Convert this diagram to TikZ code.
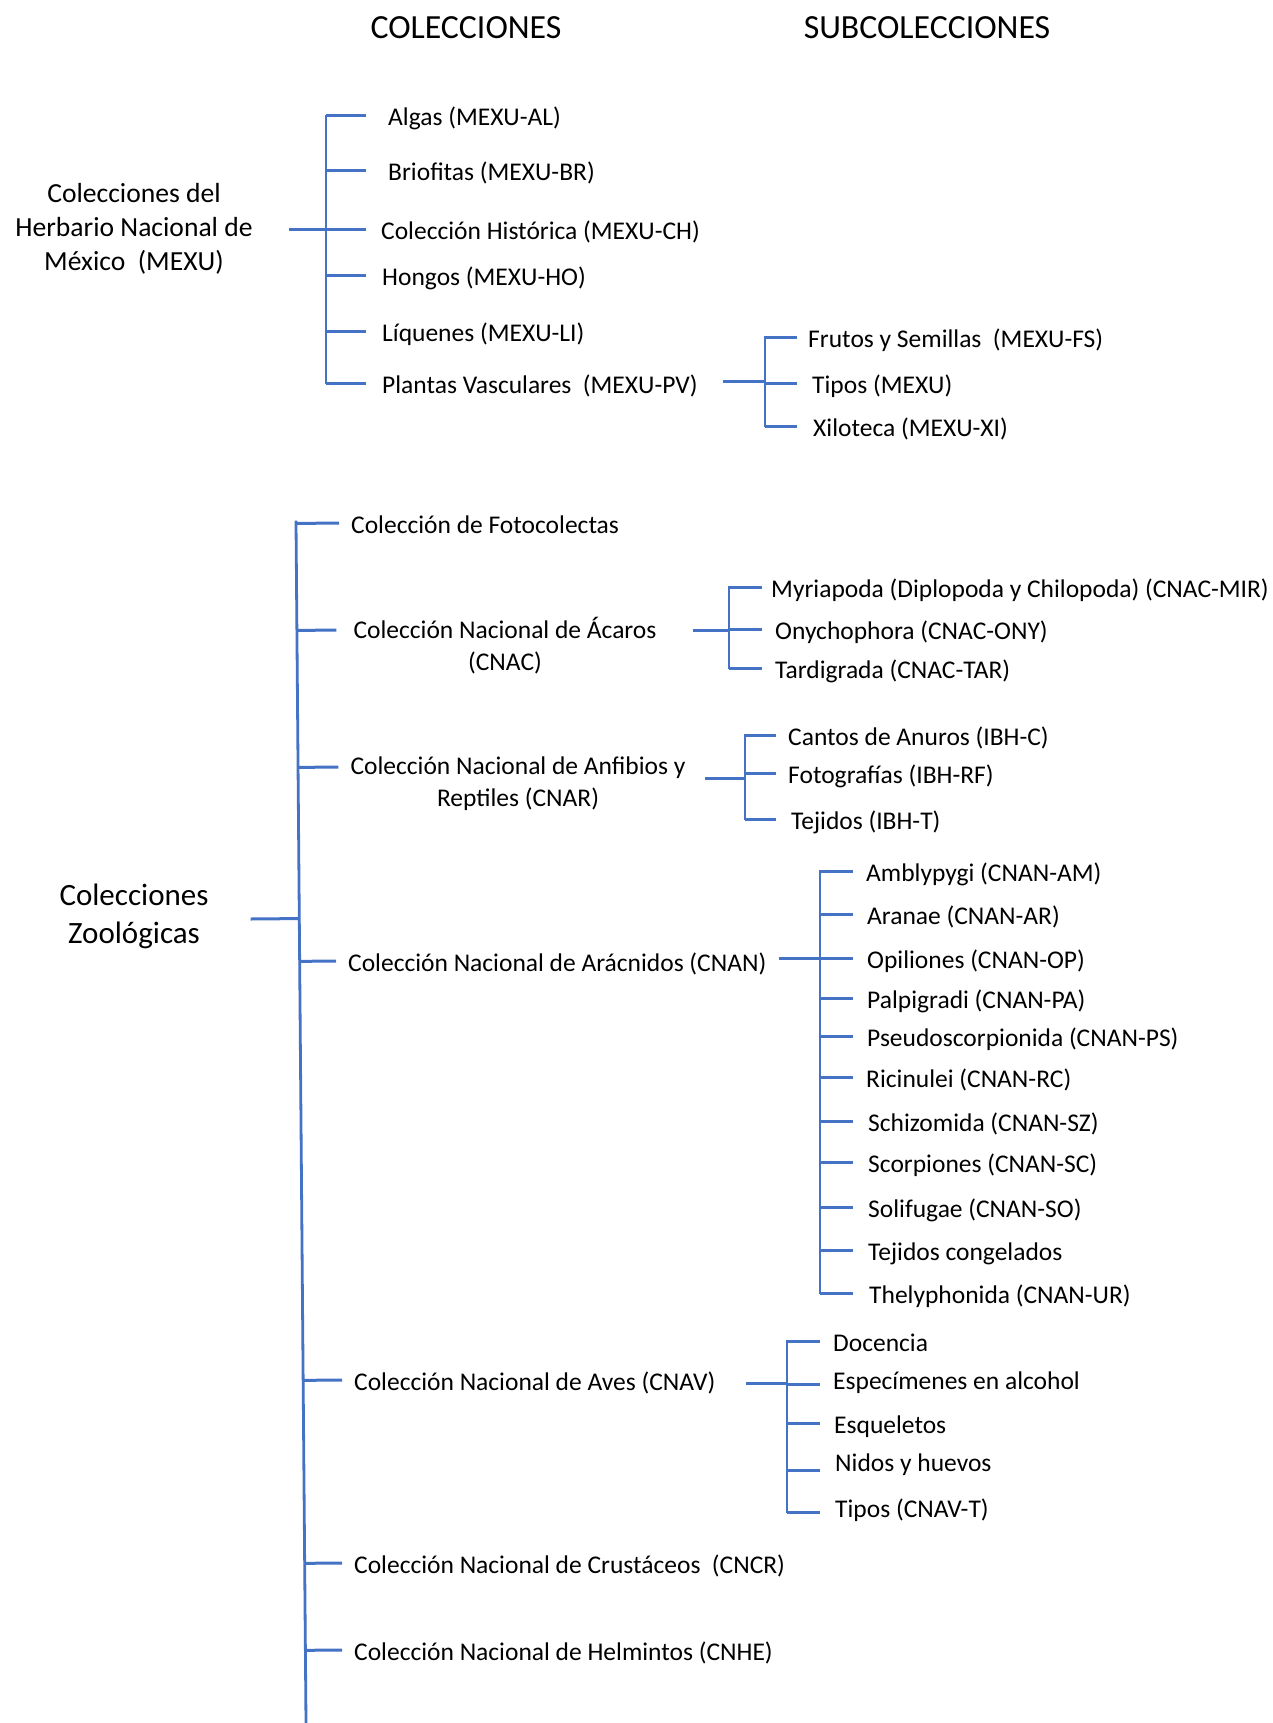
\documentclass[tikz,border=0pt]{standalone}
\usepackage{fontspec}
\setmainfont{Carlito}
\usetikzlibrary{calc}
\definecolor{brblue}{RGB}{68,114,196}
\tikzset{
  br/.style={draw=brblue, line width=3pt},
  spine/.style={draw=brblue, line width=2.8pt, line cap=rect},
  lbl/.style={anchor=west, inner sep=0pt, text height=21pt, text depth=1pt,
    font=\fontsize{25.5}{32}\selectfont},
  ml/.style={align=center, inner sep=0pt, font=\fontsize{25.5}{32}\selectfont},
  hdr/.style={inner sep=0pt, font=\fontsize{33.8}{40}\selectfont}
}
\begin{document}
\begin{tikzpicture}[x=1pt,y=-1pt]
\useasboundingbox (0,0) rectangle (1272,1723);
% headers
\node[hdr] (h1) at (466,28) {COLECCIONES};
\node[hdr] (h2) at (927,28) {SUBCOLECCIONES};

% ---------- Herbario ----------
\node[align=center, inner sep=0pt, font=\fontsize{27.6}{34}\selectfont] (herb) at (134,229)
  {Colecciones del\\Herbario Nacional de\\México~ (MEXU)};
\coordinate (sH) at (326,0);
\coordinate (tH) at (366,0);
\node[lbl] (alg) at (388,116) {Algas (MEXU-AL)};
\node[lbl] (bri) at (388,171) {Briofitas (MEXU-BR)};
\node[lbl] (his) at (381,229) {Colección Histórica (MEXU-CH)};
\node[lbl] (hon) at (382,275) {Hongos (MEXU-HO)};
\node[lbl] (liq) at (382,331) {Líquenes (MEXU-LI)};
\node[lbl] (pla) at (382,383) {Plantas Vasculares~ (MEXU-PV)};
\draw[spine] (sH |- alg.west) -- (sH |- pla.west);
\foreach \n in {alg,bri,his,hon,liq,pla}
  \draw[br] (sH |- \n.west) -- (tH |- \n.west);
\draw[br] ([xshift=36pt]herb.east) -- (sH |- herb.east);

% PV subcollections
\coordinate (sP) at (765,0);
\coordinate (tP) at (797,0);
\node[lbl] (fru) at (808,337) {Frutos y Semillas~ (MEXU-FS)};
\node[lbl] (tip) at (812,383) {Tipos (MEXU)};
\node[lbl] (xil) at (813,426) {Xiloteca (MEXU-XI)};
\draw[spine] (sP |- fru.west) -- (sP |- xil.west);
\foreach \n in {fru,tip,xil}
  \draw[br] (sP |- \n.west) -- (tP |- \n.west);
\coordinate (plaE) at ([xshift=25pt,yshift=2pt]pla.east);
\draw[br] (plaE) -- (sP |- plaE);

% ---------- Zoologicas ----------
\node[align=center, inner sep=0pt, font=\fontsize{31}{38}\selectfont] (zoo) at (134,916)
  {Colecciones\\Zoológicas};
\coordinate (zT) at (296,522);
\coordinate (zB) at (306,1723);
\draw[spine] (zT) -- (zB);
\coordinate (zs) at ([xshift=42pt,yshift=-3pt]zoo.east);
\draw[br] (zs) -- ($(zT)!(zs)!(zB)$);

\node[lbl] (fot) at (351,523) {Colección de Fotocolectas};
\node[ml] (aca) at (505,646) {Colección Nacional de Ácaros\\(CNAC)};
\node[ml] (anf) at (518,784) {Colección Nacional de Anfibios y\\Reptiles (CNAR)};
\node[lbl] (ara) at (348,961) {Colección Nacional de Arácnidos (CNAN)};
\node[lbl] (ave) at (354,1380) {Colección Nacional de Aves (CNAV)};
\node[lbl] (cru) at (354,1563) {Colección Nacional de Crustáceos~ (CNCR)};
\node[lbl] (hel) at (354,1650) {Colección Nacional de Helmintos (CNHE)};

\foreach \n in {fot,ara,ave,cru,hel}
  \draw[br] ($(zT)!(\n.west)!(zB)$) -- ([xshift=-12pt]\n.west);
\coordinate (acaT) at ([yshift=16pt]aca.west);
\draw[br] ($(zT)!(acaT)!(zB)$) -- ([xshift=-17pt]acaT);
\coordinate (anfT) at ([yshift=17pt]anf.west);
\draw[br] ($(zT)!(anfT)!(zB)$) -- ([xshift=-12pt]anfT);

% Acaros subcollections
\coordinate (sA) at (729,0);
\coordinate (tA) at (762,0);
\node[lbl] (myr) at (771,587) {Myriapoda (Diplopoda y Chilopoda) (CNAC-MIR)};
\node[lbl] (ony) at (775,629) {Onychophora (CNAC-ONY)};
\node[lbl] (tar) at (775,668) {Tardigrada (CNAC-TAR)};
\draw[spine] (sA |- myr.west) -- (sA |- tar.west);
\foreach \n in {myr,ony,tar}
  \draw[br] (sA |- \n.west) -- (tA |- \n.west);
\coordinate (acaE) at ([xshift=36pt,yshift=16pt]aca.east);
\draw[br] (acaE) -- (sA |- acaE);

% Anfibios subcollections
\coordinate (sF) at (745,0);
\coordinate (tF) at (776,0);
\node[lbl] (can) at (788,735) {Cantos de Anuros (IBH-C)};
\node[lbl] (fog) at (788,773) {Fotografías (IBH-RF)};
\node[lbl] (tej) at (791,819) {Tejidos (IBH-T)};
\draw[spine] (sF |- can.west) -- (sF |- tej.west);
\foreach \n in {can,fog,tej}
  \draw[br] (sF |- \n.west) -- (tF |- \n.west);
\coordinate (anfE) at ([xshift=19pt,yshift=6pt]anf.east);
\draw[br] (anfE) -- (sF |- anfE);

% Aracnidos subcollections
\coordinate (sR) at (820,0);
\coordinate (tR) at (853,0);
\node[lbl] (amb) at (866,871) {Amblypygi (CNAN-AM)};
\node[lbl] (arn) at (867,914) {Aranae (CNAN-AR)};
\node[lbl] (opi) at (867,958) {Opiliones (CNAN-OP)};
\node[lbl] (pal) at (867,998) {Palpigradi (CNAN-PA)};
\node[lbl] (pse) at (867,1036) {Pseudoscorpionida (CNAN-PS)};
\node[lbl] (ric) at (866,1077) {Ricinulei (CNAN-RC)};
\node[lbl] (sch) at (868,1121) {Schizomida (CNAN-SZ)};
\node[lbl] (sco) at (868,1162) {Scorpiones (CNAN-SC)};
\node[lbl] (sol) at (868,1207) {Solifugae (CNAN-SO)};
\node[lbl] (tco) at (868,1250) {Tejidos congelados};
\node[lbl] (the) at (869,1293) {Thelyphonida (CNAN-UR)};
\draw[spine] (sR |- amb.west) -- (sR |- the.west);
\foreach \n in {amb,arn,opi,pal,pse,ric,sch,sco,sol,tco,the}
  \draw[br] (sR |- \n.west) -- (tR |- \n.west);
\coordinate (araE) at ([xshift=12pt,yshift=3pt]ara.east);
\draw[br] (araE) -- (sR |- araE);

% Aves subcollections
\coordinate (sV) at (787,0);
\coordinate (tV) at (820,0);
\node[lbl] (doc) at (833,1341) {Docencia};
\node[lbl] (esp) at (833,1379) {Especímenes en alcohol};
\node[lbl] (esq) at (834,1423) {Esqueletos};
\node[lbl] (nid) at (835,1461) {Nidos y huevos};
\node[lbl] (tcn) at (835,1507) {Tipos (CNAV-T)};
\coordinate (espT) at ([yshift=-5pt]esp.west);
\coordinate (nidT) at ([yshift=-9pt]nid.west);
\coordinate (tcnT) at ([yshift=-5pt]tcn.west);
\draw[spine] (sV |- doc.west) -- (sV |- tcnT);
\foreach \n in {doc.west,espT,esq.west,nidT,tcnT}
  \draw[br] (sV |- \n) -- (tV |- \n);
\coordinate (aveE) at ([xshift=31pt,yshift=-3pt]ave.east);
\draw[br] (aveE) -- (sV |- aveE);
\end{tikzpicture}
\end{document}
